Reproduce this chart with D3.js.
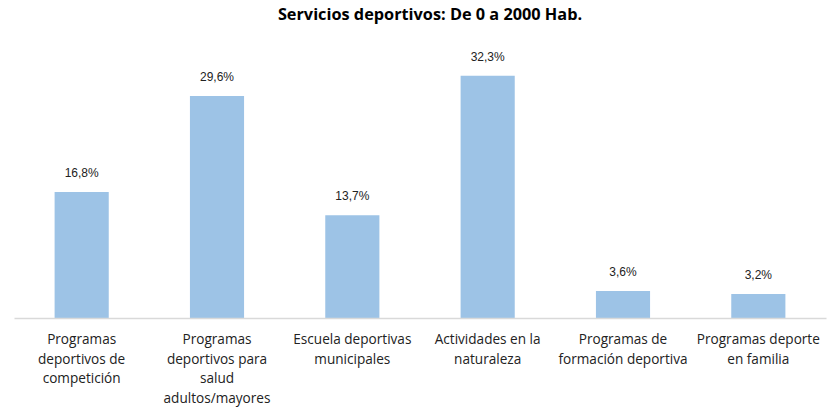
<!DOCTYPE html>
<html>
<head>
<meta charset="utf-8">
<script src="https://cdn.jsdelivr.net/npm/d3@7"></script>
<style>
  body { margin: 0; background: #fff; }
  svg { display: block; }
</style>
</head>
<body>
<svg id="chart" width="827" height="407"></svg>
<script>
const title = "Servicios deportivos: De 0 a 2000 Hab.";
const categories = [
  "Programas\ndeportivos de\ncompetición",
  "Programas\ndeportivos para\nsalud\nadultos/mayores",
  "Escuela deportivas\nmunicipales",
  "Actividades en la\nnaturaleza",
  "Programas de\nformación deportiva",
  "Programas deporte\nen familia"
];
const values = [16.8, 29.6, 13.7, 32.3, 3.6, 3.2];
const valueLabels = ["16,8%", "29,6%", "13,7%", "32,3%", "3,6%", "3,2%"];

const svg = d3.select("#chart");
const x = d3.scaleBand().domain(d3.range(categories.length)).range([14, 826]).paddingInner(0.6).paddingOuter(0.3);
const y = d3.scaleLinear().domain([0, 35]).range([318, 55.5]);

svg.append("text")
  .attr("x", 430).attr("y", 20)
  .attr("text-anchor", "middle")
  .attr("font-family", "Open Sans, sans-serif")
  .attr("font-weight", "bold")
  .attr("font-size", 16.3)
  .attr("fill", "#000")
  .text(title);

svg.selectAll("rect.bar").data(values).join("rect")
  .attr("class", "bar")
  .attr("x", (d, i) => x(i))
  .attr("width", x.bandwidth())
  .attr("y", d => y(d))
  .attr("height", d => y(0) - y(d))
  .attr("fill", "#9dc3e6");

svg.selectAll("text.val").data(values).join("text")
  .attr("class", "val")
  .attr("x", (d, i) => x(i) + x.bandwidth() / 2)
  .attr("y", d => y(d) - 15)
  .attr("text-anchor", "middle")
  .attr("font-family", "Liberation Sans, Arial, sans-serif")
  .attr("font-size", 12)
  .attr("fill", "#222")
  .text((d, i) => valueLabels[i]);

const axis = d3.axisBottom(x).tickSize(0).tickFormat("");
const g = svg.append("g").attr("transform", `translate(0,${y(0)})`).call(axis);
g.select(".domain").attr("stroke", "#d9d9d9").attr("stroke-width", 1.5);

const lab = svg.append("g");
categories.forEach((c, i) => {
  const t = lab.append("text")
    .attr("x", x(i) + x.bandwidth() / 2)
    .attr("y", 344)
    .attr("text-anchor", "middle")
    .attr("font-family", "Open Sans, sans-serif")
    .attr("font-size", 13.6)
    .attr("fill", "#222");
  c.split("\n").forEach((line, j) => {
    t.append("tspan").attr("x", x(i) + x.bandwidth() / 2).attr("dy", j === 0 ? 0 : 19.6).text(line);
  });
});
</script>
</body>
</html>
